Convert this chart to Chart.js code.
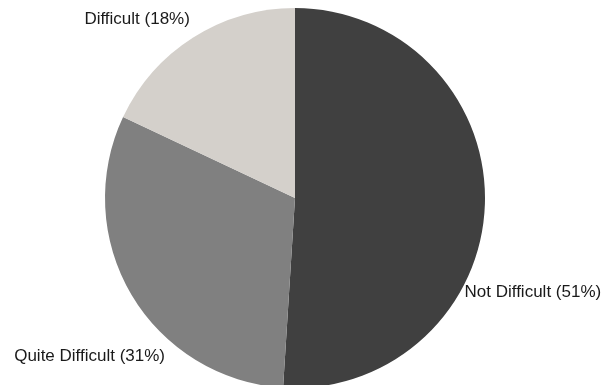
<!DOCTYPE html>
<html>
<head>
<meta charset="utf-8">
<script src="https://cdn.jsdelivr.net/npm/chart.js@4"></script>
<style>
html,body{margin:0;padding:0;background:#fff;overflow:hidden;}
#wrap{width:605px;height:385px;overflow:hidden;position:relative;}
canvas{display:block;}
</style>
</head>
<body>
<div id="wrap"><canvas id="c" width="605" height="391"></canvas></div>
<script>
const categories = ["Not Difficult", "Quite Difficult", "Difficult"];
const percentages = [51, 31, 18];
const sliceColors = ["#404040", "#808080", "#d4d0cb"];
// label placement: angle (deg, clockwise from top), distance factor vs radius, alignment
const labelAngles = [119, 219.3, 329.5];
const labelDist = [1.02, 1.08, 1.09];
const labelAlign = ["left", "right", "right"];

const labelPlugin = {
  id: 'outsideLabels',
  afterDatasetsDraw(chart) {
    const ctx = chart.ctx;
    const meta = chart.getDatasetMeta(0);
    ctx.save();
    ctx.font = '17px "Liberation Sans", Arial, sans-serif';
    ctx.fillStyle = '#1a1a1a';
    ctx.textBaseline = 'middle';
    meta.data.forEach((arc, i) => {
      const a = labelAngles[i] * Math.PI / 180;
      const r = arc.outerRadius * labelDist[i];
      const x = arc.x + r * Math.sin(a);
      const y = arc.y - r * Math.cos(a);
      ctx.textAlign = labelAlign[i];
      ctx.fillText(categories[i] + ' (' + percentages[i] + '%)', x, y);
    });
    ctx.restore();
  }
};

new Chart(document.getElementById('c'), {
  type: 'pie',
  data: {
    labels: categories,
    datasets: [{
      data: percentages,
      backgroundColor: sliceColors,
      borderWidth: 0
    }]
  },
  options: {
    responsive: false,
    animation: false,
    devicePixelRatio: 1,
    layout: { padding: { left: 105, right: 120, top: 8, bottom: 3 } },
    plugins: { legend: { display: false }, tooltip: { enabled: false } }
  },
  plugins: [labelPlugin]
});
</script>
</body>
</html>
